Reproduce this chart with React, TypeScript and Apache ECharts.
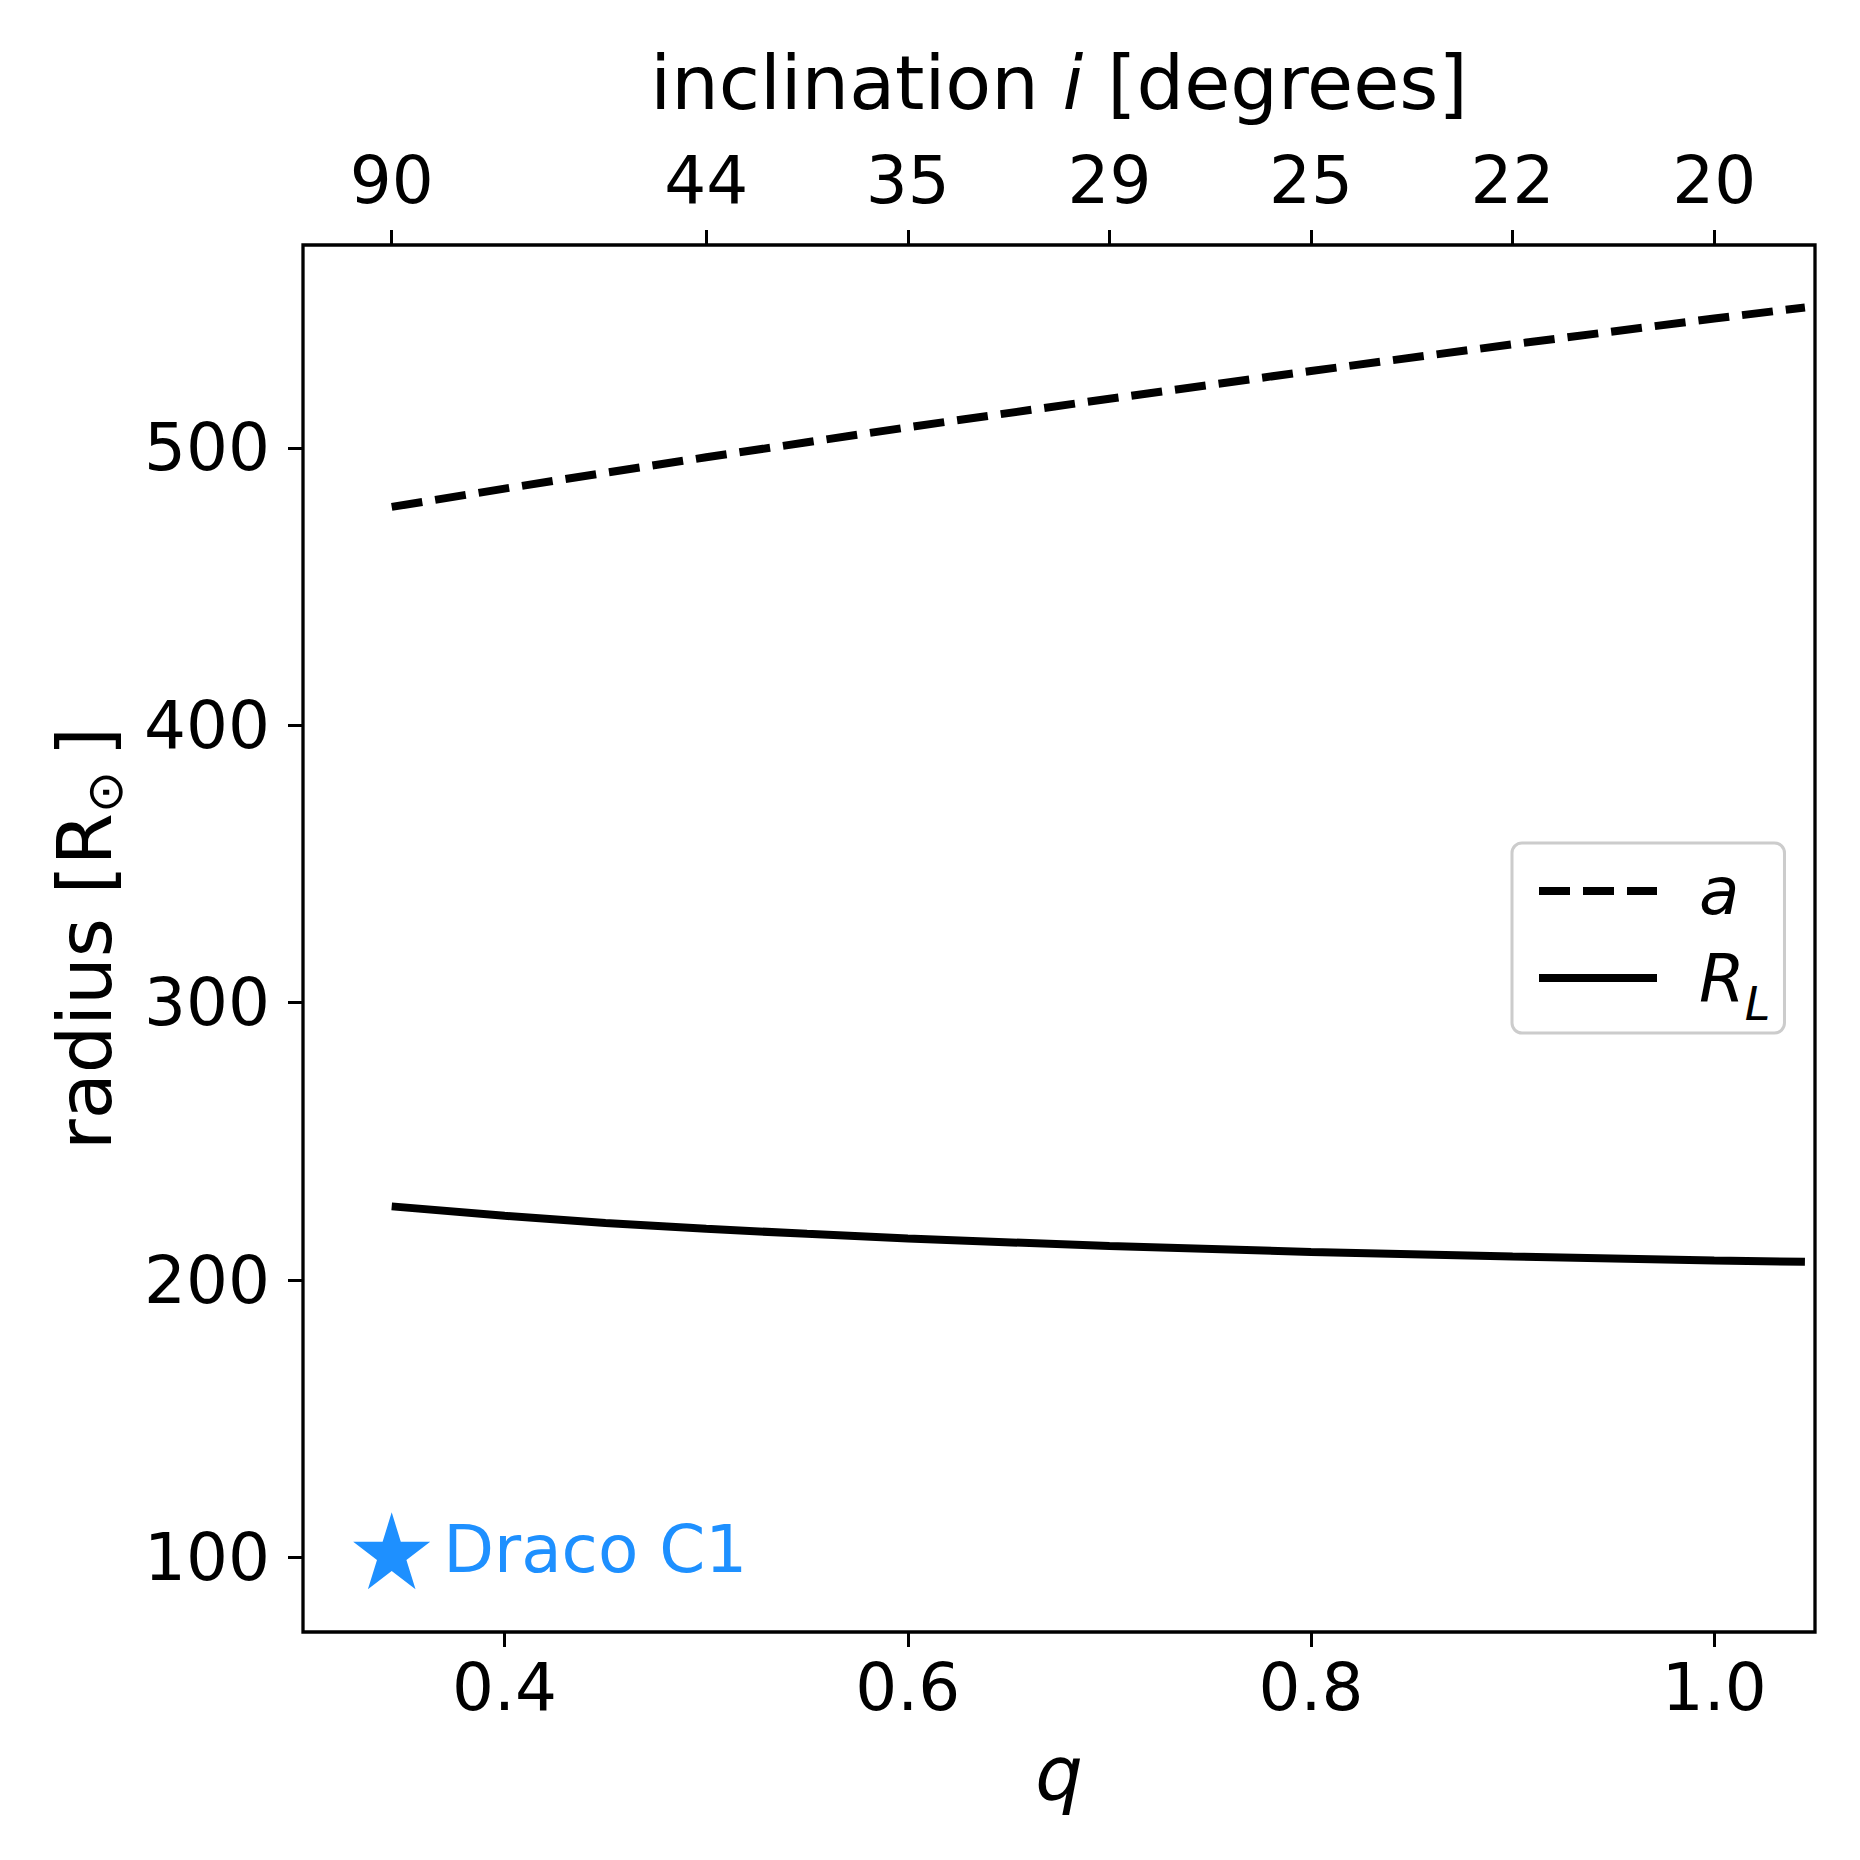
import React, { useEffect, useRef } from "react";
import * as echarts from "echarts";

const FONT = "DejaVu Sans";

// mass ratio q (bottom axis)
const qValues = [0.344, 0.4, 0.45, 0.5, 0.55, 0.6, 0.7, 0.8, 0.9, 1.0, 1.045];
// orbital separation a [R_sun]
const aValues = [478.7, 485.3, 491.0, 496.6, 502.0, 507.4, 517.7, 527.7, 537.3, 546.6, 550.6];
// Roche-lobe radius R_L [R_sun]
const rlValues = [226.6, 223.2, 220.6, 218.5, 216.7, 215.0, 212.3, 210.2, 208.5, 207.1, 206.6];

// Draco C1 marker
const dracoQ = 0.344;
const dracoR = 101;
const dracoLabel = "Draco C1";

// axis ticks
const bottomTicks = [0.4, 0.6, 0.8, 1.0];
const yTicks = [100, 200, 300, 400, 500];
const topTickQ = [0.344, 0.5, 0.6, 0.7, 0.8, 0.9, 1.0];
const topTickLabels = ["90", "44", "35", "29", "25", "22", "20"];

const X_MIN = 0.3;
const X_MAX = 1.05;
const Y_MIN = 73.2;
const Y_MAX = 573.1;

const STAR =
  "path://M0,-100 L22.45,-30.9 L95.11,-30.9 L36.33,11.8 L58.78,80.9 L0,38.2 L-58.78,80.9 L-36.33,11.8 L-95.11,-30.9 L-22.45,-30.9 Z M0,100";

export default function App() {
  const ref = useRef<HTMLDivElement>(null);

  useEffect(() => {
    document.body.style.margin = "0";
    const chart = echarts.init(ref.current!, null, { renderer: "svg" });

    const aData = qValues.map((q, i) => [q, aValues[i]]);
    const rlData = qValues.map((q, i) => [q, rlValues[i]]);

    const tickCommon = {
      show: true,
      inside: false,
      length: 15,
      lineStyle: { color: "#000", width: 3 },
    };

    chart.setOption({
      animation: false,
      backgroundColor: "#fff",
      textStyle: { fontFamily: FONT },
      grid: {
        left: 303,
        top: 245,
        width: 1512,
        height: 1387,
        show: true,
        borderColor: "#000",
        borderWidth: 3.3,
        backgroundColor: "transparent",
        containLabel: false,
      },
      legend: {
        data: ["a", "R_L"],
        orient: "vertical",
        left: 1512,
        top: 843,
        itemWidth: 118,
        itemHeight: 20,
        itemGap: 17,
        padding: [13, 14, 6, 23],
        borderColor: "#cccccc",
        borderWidth: 3,
        borderRadius: 10,
        backgroundColor: "rgba(255,255,255,0.8)",
        selectedMode: false,
        lineStyle: { width: 8 },
        itemStyle: { color: "rgba(0,0,0,0)", borderWidth: 0, opacity: 0 },
        formatter: (name: string) => (name === "a" ? "{it|a}" : "{it|R}{sub|L}"),
        textStyle: {
          fontFamily: FONT,
          fontSize: 66,
          color: "#000",
          lineHeight: 70,
          padding: [0, 0, 0, 37],
          rich: {
            it: { fontFamily: FONT, fontStyle: "italic", fontSize: 66, color: "#000", lineHeight: 70 },
            sub: {
              fontFamily: FONT,
              fontStyle: "italic",
              fontSize: 46,
              color: "#000",
              lineHeight: 70,
              verticalAlign: "bottom",
              padding: [0, 0, -14, 0],
            },
          },
        },
      },
      xAxis: [
        {
          type: "value",
          position: "bottom",
          min: X_MIN,
          max: X_MAX,
          name: "q",
          nameLocation: "middle",
          nameGap: 104,
          nameTextStyle: { fontFamily: FONT, fontSize: 75, fontStyle: "italic", color: "#000" },
          axisLine: { show: false },
          splitLine: { show: false },
          axisTick: { ...tickCommon, customValues: bottomTicks },
          axisLabel: {
            customValues: bottomTicks,
            formatter: (v: number) => v.toFixed(1),
            fontFamily: FONT,
            fontSize: 66,
            color: "#000",
            margin: 22,
          },
        },
        {
          type: "value",
          position: "top",
          min: X_MIN,
          max: X_MAX,
          name: "inclination {it|i} [degrees]",
          nameLocation: "middle",
          nameGap: 125,
          nameTextStyle: {
            fontFamily: FONT,
            fontSize: 75,
            color: "#000",
            rich: { it: { fontFamily: FONT, fontSize: 75, fontStyle: "italic", color: "#000" } },
          },
          axisLine: { show: false },
          splitLine: { show: false },
          axisTick: { ...tickCommon, customValues: topTickQ },
          axisLabel: {
            customValues: topTickQ,
            formatter: (v: number) => {
              let best = 0;
              for (let i = 1; i < topTickQ.length; i++) {
                if (Math.abs(topTickQ[i] - v) < Math.abs(topTickQ[best] - v)) best = i;
              }
              return topTickLabels[best];
            },
            fontFamily: FONT,
            fontSize: 66,
            color: "#000",
            margin: 32,
          },
        },
      ],
      yAxis: {
        type: "value",
        min: Y_MIN,
        max: Y_MAX,
        name: "radius [R{sub|⊙}\u2009]",
        nameLocation: "middle",
        nameRotate: 90,
        nameGap: 173,
        nameTextStyle: {
          fontFamily: FONT,
          fontSize: 75,
          color: "#000",
          lineHeight: 90,
          rich: {
            sub: { fontFamily: FONT, fontSize: 50, color: "#000", verticalAlign: "bottom", lineHeight: 50 },
          },
        },
        axisLine: { show: false },
        splitLine: { show: false },
        axisTick: { ...tickCommon, customValues: yTicks },
        axisLabel: {
          customValues: yTicks,
          fontFamily: FONT,
          fontSize: 66,
          color: "#000",
          margin: 33,
        },
      },
      series: [
        {
          name: "a",
          type: "line",
          xAxisIndex: 0,
          data: aData,
          symbol: "none",
          lineStyle: { color: "#000", width: 8, type: [31, 13], cap: "butt" },
          itemStyle: { color: "#000" },
          z: 2,
        },
        {
          name: "R_L",
          type: "line",
          xAxisIndex: 0,
          data: rlData,
          symbol: "none",
          lineStyle: { color: "#000", width: 8, type: "solid" },
          itemStyle: { color: "#000" },
          z: 2,
        },
        {
          name: "Draco C1",
          type: "scatter",
          xAxisIndex: 0,
          data: [[dracoQ, dracoR]],
          symbol: STAR,
          symbolSize: [81, 85],
          symbolKeepAspect: true,
          itemStyle: { color: "#1E90FF", opacity: 1 },
          label: {
            show: true,
            position: "right",
            distance: 13,
            offset: [0, -5],
            formatter: dracoLabel,
            fontFamily: FONT,
            fontSize: 66,
            color: "#1E90FF",
            opacity: 1,
          },
          z: 3,
        },
      ],
    });

    return () => chart.dispose();
  }, []);

  return (
    <div
      ref={ref}
      style={{ position: "absolute", left: 0, top: 0, width: 1860, height: 1860, background: "#fff" }}
    />
  );
}
